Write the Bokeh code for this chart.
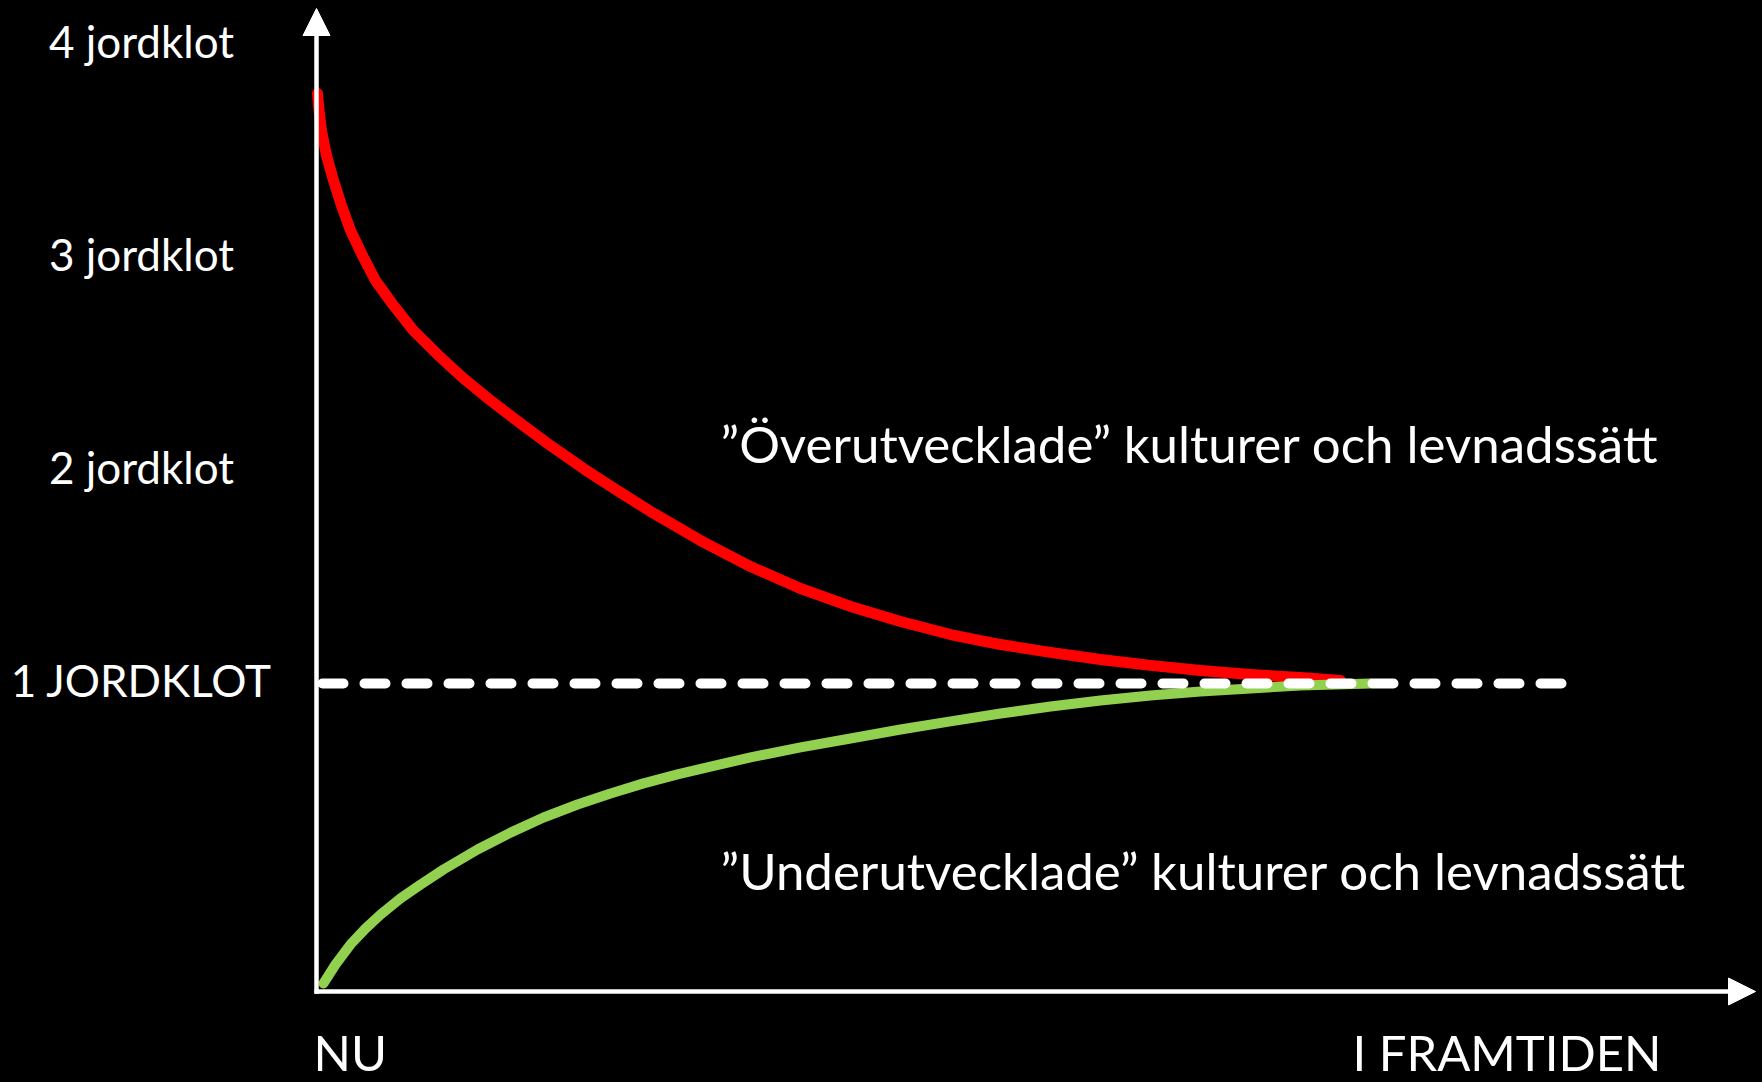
from bokeh.plotting import figure
from bokeh.models import Arrow, NormalHead, Range1d, ColumnDataSource
from bokeh.core.properties import value
from bokeh.embed import file_html
from bokeh.resources import INLINE

# ---- data (time in arbitrary units, footprint in "jordklot") ----
tick_values = [4, 3, 2, 1]
tick_labels = ["4 jordklot", "3 jordklot", "2 jordklot", "1 JORDKLOT"]

red_x = [0.01, 0.025, 0.05, 0.10, 0.17, 0.25, 0.34, 0.46, 0.59, 0.77, 0.97, 1.21, 1.46,
         1.74, 2.04, 2.34, 2.67, 2.99, 3.34, 3.84, 4.34, 4.84, 5.34, 5.84, 6.34, 6.84,
         7.34, 7.84, 8.34, 8.84, 9.34, 9.84, 10.24]
red_y = [3.770, 3.690, 3.596, 3.479, 3.362, 3.244, 3.127, 3.009, 2.892, 2.775, 2.657, 2.545, 2.437,
         2.329, 2.221, 2.117, 2.009, 1.911, 1.808, 1.671, 1.549, 1.446, 1.362, 1.291, 1.230, 1.183,
         1.146, 1.113, 1.085, 1.061, 1.042, 1.028, 1.014]

green_x = [0.07, 0.19, 0.34, 0.49, 0.64, 0.84, 1.04, 1.27, 1.61, 1.94, 2.27, 2.61, 2.94, 3.27,
           3.61, 3.94, 4.34, 4.84, 5.34, 5.84, 6.34, 6.84, 7.34, 7.84, 8.34, 8.84, 9.34, 9.84, 10.54]
green_y = [-0.408, -0.319, -0.225, -0.150, -0.085, -0.009, 0.056, 0.127, 0.221, 0.300, 0.371, 0.432,
           0.484, 0.531, 0.573, 0.610, 0.653, 0.700, 0.742, 0.784, 0.822, 0.859, 0.892, 0.920, 0.944,
           0.962, 0.977, 0.991, 1.000]

target_level = 1.0
target_x = [0.06, 12.52]

axis_bottom = -0.446
axis_top = 4.169
axis_right = 14.39

over_label = "\u201d\u00d6verutvecklade\u201d kulturer och levnadss\u00e4tt"
under_label = "\u201dUnderutvecklade\u201d kulturer och levnadss\u00e4tt"
x_start_label = "NU"
x_end_label = "I FRAMTIDEN"

FONT = "Lato"

p = figure(width=1760, height=1080,
           x_range=Range1d(-3.16, 14.44), y_range=Range1d(-0.8638, 4.2066),
           output_backend="svg", toolbar_location=None,
           background_fill_color="black", border_fill_color="black",
           min_border=0, outline_line_color=None,
           x_axis_type=None, y_axis_type=None)
p.grid.visible = False

# curves
p.line(red_x, red_y, line_color="#ff0000", line_width=11, line_cap="round", line_join="round")
p.line(green_x, green_y, line_color="#92d050", line_width=10, line_cap="round", line_join="round")

# one-planet dashed line
p.line(target_x, [target_level, target_level], line_color="white", line_width=10,
       line_dash="21 21", line_cap="round")

# axes as arrows
p.add_layout(Arrow(x_start=0, y_start=axis_bottom - 0.01, x_end=0, y_end=axis_top,
                   line_color="white", line_width=4.5,
                   end=NormalHead(size=27, fill_color="white", line_color="white", line_width=1)))
p.add_layout(Arrow(x_start=-0.02, y_start=axis_bottom, x_end=axis_right, y_end=axis_bottom,
                   line_color="white", line_width=4.5,
                   end=NormalHead(size=27, fill_color="white", line_color="white", line_width=1)))

# y tick labels
src = ColumnDataSource(dict(x=[-1.75] * len(tick_values), y=tick_values, t=tick_labels))
p.text(x="x", y="y", text="t", source=src, text_color="white", text_font=value(FONT),
       text_font_size="44px", text_align="center", text_baseline="alphabetic", y_offset=-4)

# region labels
p.text(x=[4.04], y=[2.128], text=[over_label], text_color="white", text_font=value(FONT),
       text_font_size="51px", text_align="left", text_baseline="alphabetic")
p.text(x=[4.04], y=[0.122], text=[under_label], text_color="white", text_font=value(FONT),
       text_font_size="51px", text_align="left", text_baseline="alphabetic")

# x end labels
p.text(x=[-0.03, 10.36], y=[-0.728, -0.728], text=[x_start_label, x_end_label], text_color="white",
       text_font=value(FONT), text_font_size="49px", text_align="left", text_baseline="alphabetic")

html = file_html(p, INLINE)
html = html.replace("<head>", "<head><style>html,body{background:#000;}</style>", 1)
open("out.html", "w").write(html)
